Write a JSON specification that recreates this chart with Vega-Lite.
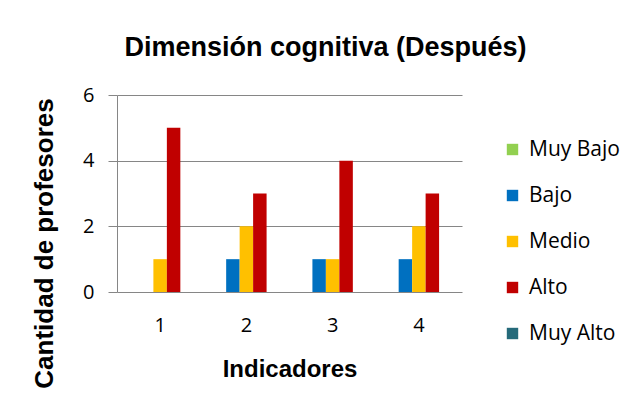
{
  "$schema": "https://vega.github.io/schema/vega-lite/v6.json",
  "autosize": "none",
  "width": 345,
  "height": 197,
  "padding": {"left": 117, "top": 95, "right": 174, "bottom": 127},
  "background": "white",
  "title": {
    "text": "Dimensión cognitiva (Después)",
    "font": "Liberation Sans",
    "fontSize": 27,
    "fontWeight": "bold",
    "color": "black",
    "anchor": "middle",
    "dx": 36,
    "offset": 23
  },
  "data": {
    "values": [
      {"indicador": "1", "nivel": "Muy Bajo", "cantidad": 0},
      {"indicador": "1", "nivel": "Bajo", "cantidad": 0},
      {"indicador": "1", "nivel": "Medio", "cantidad": 1},
      {"indicador": "1", "nivel": "Alto", "cantidad": 5},
      {"indicador": "1", "nivel": "Muy Alto", "cantidad": 0},
      {"indicador": "2", "nivel": "Muy Bajo", "cantidad": 0},
      {"indicador": "2", "nivel": "Bajo", "cantidad": 1},
      {"indicador": "2", "nivel": "Medio", "cantidad": 2},
      {"indicador": "2", "nivel": "Alto", "cantidad": 3},
      {"indicador": "2", "nivel": "Muy Alto", "cantidad": 0},
      {"indicador": "3", "nivel": "Muy Bajo", "cantidad": 0},
      {"indicador": "3", "nivel": "Bajo", "cantidad": 1},
      {"indicador": "3", "nivel": "Medio", "cantidad": 1},
      {"indicador": "3", "nivel": "Alto", "cantidad": 4},
      {"indicador": "3", "nivel": "Muy Alto", "cantidad": 0},
      {"indicador": "4", "nivel": "Muy Bajo", "cantidad": 0},
      {"indicador": "4", "nivel": "Bajo", "cantidad": 1},
      {"indicador": "4", "nivel": "Medio", "cantidad": 2},
      {"indicador": "4", "nivel": "Alto", "cantidad": 3},
      {"indicador": "4", "nivel": "Muy Alto", "cantidad": 0}
    ]
  },
  "mark": {"type": "bar"},
  "encoding": {
    "x": {
      "field": "indicador",
      "type": "nominal",
      "scale": {"paddingInner": 0, "paddingOuter": 0},
      "axis": {
        "title": "Indicadores",
        "titleFont": "Liberation Sans",
        "titleFontSize": 24,
        "titleFontWeight": "bold",
        "titleColor": "black",
        "titleY": 77,
        "titleBaseline": "middle",
        "labelAngle": 0,
        "labelFont": "Open Sans",
        "labelFontSize": 20,
        "labelColor": "black",
        "labelPadding": 23,
        "ticks": false,
        "domain": false,
        "grid": false
      }
    },
    "xOffset": {
      "field": "nivel",
      "type": "nominal",
      "sort": ["Muy Bajo", "Bajo", "Medio", "Alto", "Muy Alto"],
      "scale": {"paddingInner": 0, "paddingOuter": 0.7}
    },
    "y": {
      "field": "cantidad",
      "type": "quantitative",
      "scale": {"domain": [0, 6]},
      "axis": {
        "values": [0, 2, 4, 6],
        "title": "Cantidad de profesores",
        "titleFont": "Liberation Sans",
        "titleFontSize": 26,
        "titleFontWeight": "bold",
        "titleColor": "black",
        "titleX": -73,
        "titleY": 148,
        "titleAngle": 270,
        "titleAlign": "center",
        "titleBaseline": "middle",
        "labelFont": "Open Sans",
        "labelFontSize": 20,
        "labelColor": "black",
        "labelPadding": 14,
        "tickSize": 9,
        "tickColor": "#868686",
        "domainColor": "#868686",
        "gridColor": "#868686",
        "gridOpacity": 1
      }
    },
    "color": {
      "field": "nivel",
      "type": "nominal",
      "sort": ["Muy Bajo", "Bajo", "Medio", "Alto", "Muy Alto"],
      "scale": {
        "domain": ["Muy Bajo", "Bajo", "Medio", "Alto", "Muy Alto"],
        "range": ["#92D050", "#0070C0", "#FFC000", "#C00000", "#256A7A"]
      },
      "legend": {
        "title": null,
        "orient": "none",
        "legendX": 385,
        "legendY": 44,
        "symbolType": "square",
        "symbolSize": 130,
        "symbolStrokeWidth": 0,
        "symbolOpacity": 1,
        "labelFont": "Open Sans",
        "labelFontSize": 21,
        "labelColor": "black",
        "labelOffset": 6,
        "rowPadding": 24
      }
    }
  },
  "config": {
    "view": {"stroke": null}
  }
}
